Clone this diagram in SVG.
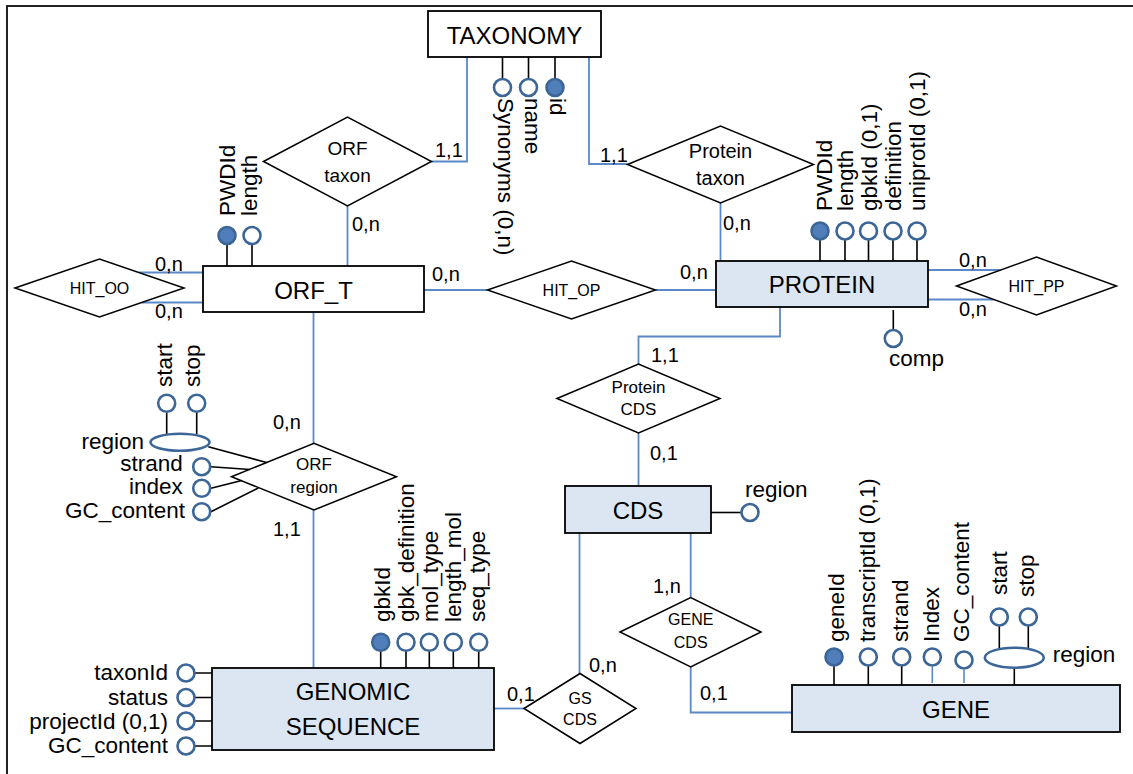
<svg xmlns="http://www.w3.org/2000/svg" width="1133" height="774" viewBox="0 0 1133 774">
  <style>
    text { font-family: "Liberation Sans", Arial, sans-serif; fill: #000; }
    .ent { fill: #fff; stroke: #000; stroke-width: 1.8; }
    .blue { fill: #DCE6F2; }
    .rel { fill: #fff; stroke: #000; stroke-width: 1.5; }
    .link { stroke: #5B89C8; stroke-width: 1.8; fill: none; }
    .stem { stroke: #000; stroke-width: 1.6; fill: none; }
    .bstem { stroke: #5B89C8; stroke-width: 1.6; fill: none; }
    .att { fill: #fff; stroke: #3C6697; stroke-width: 2.6; }
    .key { fill: #4F7EBB; stroke: #3C6697; stroke-width: 2.6; }
    .en { font-size: 24px; text-anchor: middle; }
    .rt { text-anchor: middle; }
    .at { font-size: 22.5px; }
    .end { text-anchor: end; }
    .cd { font-size: 20px; }
  </style>

  <!-- page frame -->
  <path d="M7,774 V6 H1133" fill="none" stroke="#222" stroke-width="2"/>

  <!-- connectors between entities and relationships -->
  <g id="connectors">
    <path class="link" d="M467,57 V161.5 H431.5"/>
    <path class="link" d="M589,57 V164 H627.5"/>
    <path class="link" d="M347.5,206 V266"/>
    <path class="link" d="M720.5,203 V261"/>
    <path class="link" d="M138.8,272.5 H203"/>
    <path class="link" d="M141.7,302.5 H203"/>
    <path class="link" d="M424,290 H487.5"/>
    <path class="link" d="M655.5,290 H716"/>
    <path class="link" d="M928,270 H1000.6"/>
    <path class="link" d="M928,299.5 H993.7"/>
    <path class="link" d="M780,307 V336.5 H638.5 V364"/>
    <path class="link" d="M638.5,433 V486"/>
    <path class="link" d="M579.5,533 V673.5"/>
    <path class="link" d="M494,708.5 H524"/>
    <path class="link" d="M690.7,533 V597.5"/>
    <path class="link" d="M690.7,667 V712.5 H792"/>
    <path class="link" d="M313.5,312 V443.3"/>
    <path class="link" d="M313.5,510 V668"/>
    <!-- cardinalities -->
    <g class="cd">
      <text x="435" y="157">1,1</text>
      <text x="600" y="162">1,1</text>
      <text x="352" y="231">0,n</text>
      <text x="723" y="230">0,n</text>
      <text x="155" y="270.5">0,n</text>
      <text x="155" y="318">0,n</text>
      <text x="432" y="280.5">0,n</text>
      <text x="680" y="279">0,n</text>
      <text x="959" y="266.5">0,n</text>
      <text x="959" y="316">0,n</text>
      <text x="651" y="362">1,1</text>
      <text x="650" y="460">0,1</text>
      <text x="589" y="672">0,n</text>
      <text x="507" y="700.5">0,1</text>
      <text x="653" y="593">1,n</text>
      <text x="700" y="700">0,1</text>
      <text x="273" y="429">0,n</text>
      <text x="273" y="536">1,1</text>
    </g>
  </g>

  <!-- TAXONOMY -->
  <g id="taxonomy">
    <rect class="ent" x="428" y="11" width="173" height="46"/>
    <text class="en" x="514.5" y="43.5">TAXONOMY</text>
    <path class="stem" d="M502.5,57 V79 M528.5,57 V79 M555,57 V79"/>
    <circle class="att" cx="502.5" cy="87.5" r="8.5"/>
    <circle class="att" cx="528.5" cy="87.5" r="8.5"/>
    <circle class="key" cx="555" cy="87.5" r="8.5"/>
    <text class="at" transform="translate(498,98) rotate(90)">Synonyms (0,n)</text>
    <text class="at" transform="translate(525,98) rotate(90)">name</text>
    <text class="at" transform="translate(550,98) rotate(90)">id</text>
  </g>

  <!-- ORF taxon -->
  <g id="orf-taxon">
    <polygon class="rel" points="263.5,161.5 347.5,117 431.5,161.5 347.5,206"/>
    <text class="rt" x="347.5" y="155" font-size="19">ORF</text>
    <text class="rt" x="347.5" y="181.5" font-size="19">taxon</text>
  </g>

  <!-- Protein taxon -->
  <g id="protein-taxon">
    <polygon class="rel" points="627.5,164.5 720.5,126 813.5,164.5 720.5,203"/>
    <text class="rt" x="720.5" y="158" font-size="20">Protein</text>
    <text class="rt" x="720.5" y="185" font-size="20">taxon</text>
  </g>

  <!-- ORF_T -->
  <g id="orf-t">
    <rect class="ent" x="203" y="266" width="221" height="46"/>
    <text class="en" x="313.5" y="299">ORF_T</text>
    <path class="stem" d="M227,245 V266 M252,245 V266"/>
    <circle class="key" cx="227" cy="235.5" r="8.5"/>
    <circle class="att" cx="252" cy="235.5" r="8.5"/>
    <text class="at" transform="translate(235,216) rotate(-90)">PWDId</text>
    <text class="at" transform="translate(257,216) rotate(-90)">length</text>
  </g>

  <!-- HIT_OO -->
  <g id="hit-oo">
    <polygon class="rel" points="15,288 99.5,259 184,288 99.5,317"/>
    <text class="rt" x="99.5" y="294" font-size="16">HIT_OO</text>
  </g>

  <!-- HIT_OP -->
  <g id="hit-op">
    <polygon class="rel" points="487.5,290 571.5,261 655.5,290 571.5,319"/>
    <text class="rt" x="571.5" y="296" font-size="16">HIT_OP</text>
  </g>

  <!-- PROTEIN -->
  <g id="protein">
    <rect class="ent blue" x="716" y="261" width="212" height="46"/>
    <text class="en" x="822" y="292.5">PROTEIN</text>
    <path class="stem" d="M820,240 V261 M845,240 V261 M868.5,240 V261 M893,240 V261 M917,240 V261"/>
    <circle class="key" cx="820" cy="231" r="8.5"/>
    <circle class="att" cx="845" cy="231" r="8.5"/>
    <circle class="att" cx="868.5" cy="231" r="8.5"/>
    <circle class="att" cx="893" cy="231" r="8.5"/>
    <circle class="att" cx="917" cy="231" r="8.5"/>
    <text class="at" transform="translate(832,211) rotate(-90)">PWDId</text>
    <text class="at" transform="translate(853,211) rotate(-90)">length</text>
    <text class="at" transform="translate(877,211) rotate(-90)">gbkId (0,1)</text>
    <text class="at" transform="translate(901,211) rotate(-90)">definition</text>
    <text class="at" transform="translate(925,211) rotate(-90)">uniprotId (0,1)</text>
    <path class="stem" d="M893.3,310 V329"/>
    <circle class="att" cx="893.3" cy="338.5" r="8.5"/>
    <text class="at" x="889" y="366">comp</text>
  </g>

  <!-- HIT_PP -->
  <g id="hit-pp">
    <polygon class="rel" points="956.5,286 1036.5,257 1116.5,286 1036.5,315"/>
    <text class="rt" x="1036.5" y="292" font-size="16">HIT_PP</text>
  </g>

  <!-- Protein CDS -->
  <g id="protein-cds">
    <polygon class="rel" points="557,398.5 638.5,364 720,398.5 638.5,433"/>
    <text class="rt" x="638.5" y="393" font-size="17">Protein</text>
    <text class="rt" x="638.5" y="415" font-size="17">CDS</text>
  </g>

  <!-- CDS -->
  <g id="cds">
    <rect class="ent blue" x="565" y="486" width="146" height="47"/>
    <text class="en" x="638" y="518.5" font-size="22">CDS</text>
    <path class="stem" d="M711,512.5 H741"/>
    <circle class="att" cx="750" cy="512.5" r="8.5"/>
    <text class="at" x="745" y="497">region</text>
  </g>

  <!-- GS CDS -->
  <g id="gs-cds">
    <polygon class="rel" points="524,708.5 580,673.5 636,708.5 580,743.5"/>
    <text class="rt" x="580" y="703.5" font-size="16">GS</text>
    <text class="rt" x="580" y="725" font-size="16">CDS</text>
  </g>

  <!-- GENE CDS -->
  <g id="gene-cds">
    <polygon class="rel" points="620,632 690.7,597.5 761,632 690.7,667"/>
    <text class="rt" x="690.7" y="625" font-size="16">GENE</text>
    <text class="rt" x="690.7" y="647.5" font-size="16">CDS</text>
  </g>

  <!-- GENE -->
  <g id="gene">
    <rect class="ent blue" x="792" y="685" width="328" height="47"/>
    <text class="en" x="956" y="717.5">GENE</text>
    <path class="stem" d="M834,666 V685 M868.3,666 V685 M901.7,666 V685 M1014.3,668 V685 M999.3,626 V648 M1028.3,626 V648"/>
    <path class="bstem" d="M932.3,667 V683 M964,670 V683"/>
    <circle class="key" cx="834" cy="657" r="8.5"/>
    <circle class="att" cx="868.3" cy="657" r="8.5"/>
    <circle class="att" cx="901.7" cy="657" r="8.5"/>
    <circle class="att" cx="932.3" cy="657" r="8.5"/>
    <circle class="att" cx="964" cy="660" r="8.5"/>
    <ellipse class="att" cx="1014.3" cy="657.7" rx="29.5" ry="10"/>
    <circle class="att" cx="999.3" cy="617" r="8.5"/>
    <circle class="att" cx="1028.3" cy="617" r="8.5"/>
    <text class="at" transform="translate(844,642) rotate(-90)">geneId</text>
    <text class="at" transform="translate(875,642) rotate(-90)">transcriptId (0,1)</text>
    <text class="at" transform="translate(908,642) rotate(-90)">strand</text>
    <text class="at" transform="translate(939,642) rotate(-90)">Index</text>
    <text class="at" transform="translate(969,642) rotate(-90)">GC_content</text>
    <text class="at" transform="translate(1007,595) rotate(-90)">start</text>
    <text class="at" transform="translate(1034,597) rotate(-90)">stop</text>
    <text class="at" x="1052.7" y="662">region</text>
  </g>

  <!-- GENOMIC SEQUENCE -->
  <g id="genomic-sequence">
    <rect class="ent blue" x="212" y="668" width="282" height="82"/>
    <text class="en" x="353" y="700">GENOMIC</text>
    <text class="en" x="353" y="735">SEQUENCE</text>
    <path class="stem" d="M380.7,651 V668 M406,651 V668 M429.3,651 V668 M453.3,651 V668 M478.7,651 V668"/>
    <circle class="key" cx="380.7" cy="642.3" r="8.5"/>
    <circle class="att" cx="406" cy="642.3" r="8.5"/>
    <circle class="att" cx="429.3" cy="642.3" r="8.5"/>
    <circle class="att" cx="453.3" cy="642.3" r="8.5"/>
    <circle class="att" cx="478.7" cy="642.3" r="8.5"/>
    <text class="at" transform="translate(390,622) rotate(-90)">gbkId</text>
    <text class="at" transform="translate(414,622) rotate(-90)">gbk_definition</text>
    <text class="at" transform="translate(438,622) rotate(-90)">mol_type</text>
    <text class="at" transform="translate(461,622) rotate(-90)">length_mol</text>
    <text class="at" transform="translate(485,622) rotate(-90)">seq_type</text>
    <path class="stem" d="M195,673 H212 M195,697.5 H212 M195,721 H212 M195,746 H212"/>
    <circle class="att" cx="186" cy="673" r="8.5"/>
    <circle class="att" cx="186" cy="697.5" r="8.5"/>
    <circle class="att" cx="186" cy="721" r="8.5"/>
    <circle class="att" cx="186" cy="746" r="8.5"/>
    <text class="at end" x="168" y="680">taxonId</text>
    <text class="at end" x="168" y="705">status</text>
    <text class="at end" x="168" y="729">projectId (0,1)</text>
    <text class="at end" x="168" y="753">GC_content</text>
  </g>

  <!-- ORF region -->
  <g id="orf-region">
    <polygon class="rel" points="231.5,476.7 314,443.3 396.5,476.7 314,510"/>
    <text class="rt" x="314" y="470" font-size="17">ORF</text>
    <text class="rt" x="314" y="493.3" font-size="17">region</text>
    <path class="stem" d="M208.3,446.7 L266.7,462.5 M211,466.7 L250,469.5 M211,488.3 L241.7,480.5 M211,511.7 L258.3,488"/>
    <path class="stem" d="M166.7,412 V434 M196.7,412 V434"/>
    <ellipse class="att" cx="180" cy="442.3" rx="29.5" ry="8.5"/>
    <circle class="att" cx="166.7" cy="403.3" r="8.5"/>
    <circle class="att" cx="196.7" cy="403.3" r="8.5"/>
    <circle class="att" cx="201.7" cy="466.7" r="8.5"/>
    <circle class="att" cx="201.7" cy="488.3" r="8.5"/>
    <circle class="att" cx="201.7" cy="511.7" r="8.5"/>
    <text class="at" transform="translate(172,387) rotate(-90)">start</text>
    <text class="at" transform="translate(200,387) rotate(-90)">stop</text>
    <text class="at end" x="144" y="448.5">region</text>
    <text class="at end" x="182.7" y="471">strand</text>
    <text class="at end" x="182.7" y="493.5">index</text>
    <text class="at end" x="185" y="518" font-size="22">GC_content</text>
  </g>
</svg>
